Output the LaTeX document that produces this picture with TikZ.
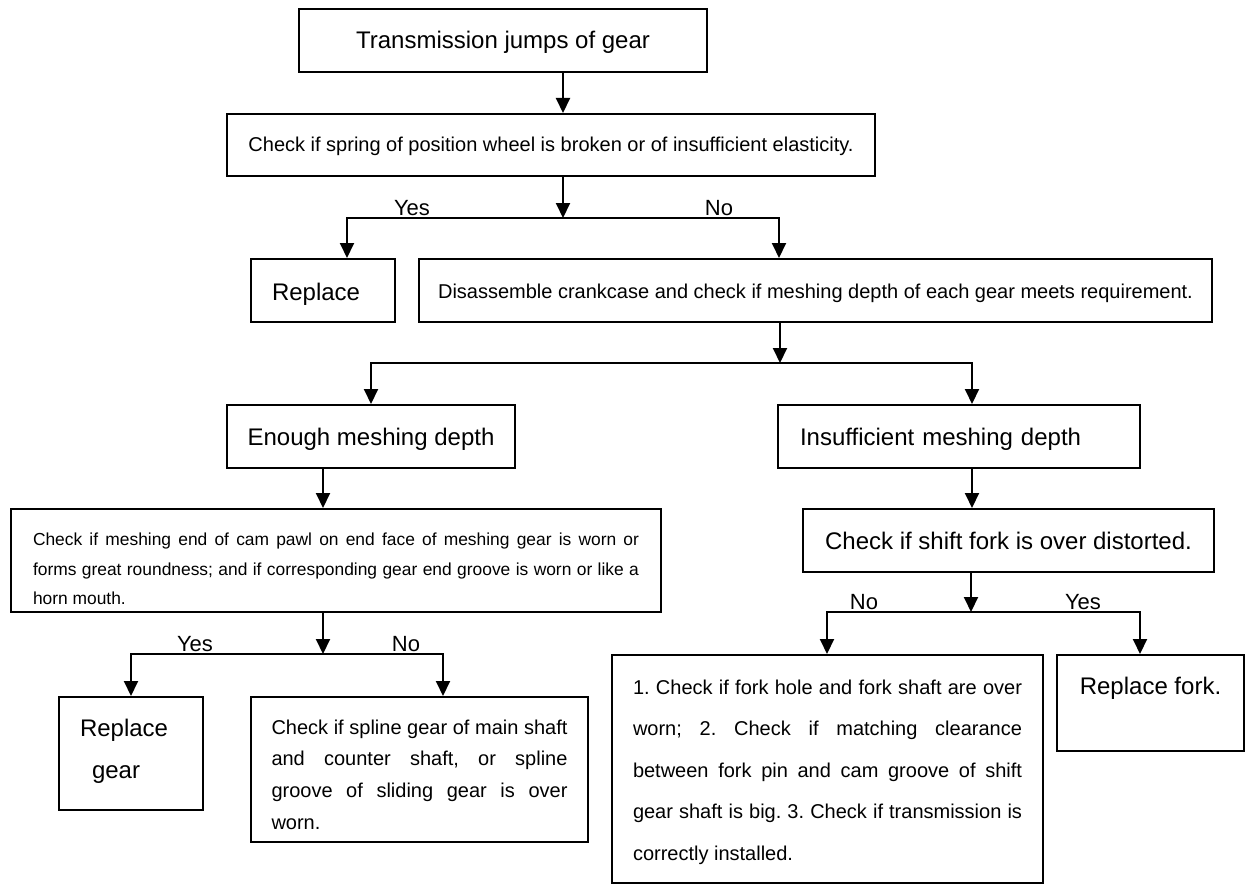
\documentclass[tikz,border=0pt]{standalone}
\usepackage{fontspec}
\setmainfont{Liberation Sans}
\usetikzlibrary{arrows.meta}

% keep the forced line breaks in the long boxes
\tolerance=10000
\hbadness=10000
\hyphenpenalty=10000
\exhyphenpenalty=10000
\frenchspacing

\tikzset{
  box/.style={draw, line width=1pt, inner sep=0pt},
  arrow/.style={line width=1pt, -{Triangle[length=7.5pt,width=7pt]}},
  answer/.style={above, inner sep=1pt, font=\fontsize{11}{13}\selectfont},
  bigtext/.style={font=\fontsize{12}{14.4}\selectfont},
  midtext/.style={font=\fontsize{10}{12}\selectfont},
}

\begin{document}
\begin{tikzpicture}[x=0.5pt,y=-0.5pt]
  \useasboundingbox (0,0) rectangle (1248,888);

  % Boxes
  \node[box,bigtext,minimum width=204pt,text height=20pt,text depth=11.5pt] (start) at (503,40.5) {Transmission jumps of gear};
  \node[box,midtext,minimum width=324pt,text height=19pt,text depth=12pt] (spring) at (551,145) {Check if spring of position wheel is broken or of insufficient elasticity.};

  \node[box,bigtext,minimum width=72pt,text width=51pt,align=left,text height=20.8pt,text depth=10.7pt] (replace) at (323,290.5) {Replace};
  \node[box,midtext,minimum width=396.5pt,text height=19.9pt,text depth=11.6pt] (crank) at (815.5,290.5) {Disassemble crankcase and check if meshing depth of each gear meets requirement.};

  \node[box,bigtext,minimum width=144pt,text height=20.2pt,text depth=11.3pt] (enough) at (371,436.5) {Enough meshing depth};
  \node[box,bigtext,minimum width=181pt,text width=159pt,align=left,text height=20.2pt,text depth=11.3pt] (insuff) at (959,436.5) {Insufficient meshing depth};

  \node[box,font=\fontsize{8.7}{14.75}\selectfont,minimum width=325pt,text width=303pt,align=justify,text height=18.25pt,text depth=33.25pt] (pawl) at (336,560.5)
    {Check if meshing end of cam pawl on end face of meshing gear is worn or\linebreak
     forms great roundness; and if corresponding gear end groove is worn or like a\linebreak
     horn mouth.};
  \node[box,bigtext,minimum width=205.5pt,text height=20pt,text depth=11.5pt] (shift) at (1008.5,540.5) {Check if shift fork is over distorted.};

  \node[box,font=\fontsize{12}{21}\selectfont,minimum width=72pt,text width=51pt,align=left,text height=19.8pt,text depth=36.7pt] (replgear) at (131,753.5)
    {Replace\\\hspace*{6pt}gear};
  \node[box,font=\fontsize{10}{15.85}\selectfont,minimum width=168.5pt,text width=148pt,align=justify,text height=18.6pt,text depth=53.9pt] (spline) at (419.5,769.5)
    {Check if spline gear of main shaft\linebreak
     and counter shaft, or spline\linebreak
     groove of sliding gear is over\linebreak
     worn.};
  \node[box,font=\fontsize{10}{20.75}\selectfont,minimum width=215.5pt,text width=194.5pt,align=justify,text height=19.6pt,text depth=94.4pt] (forkcheck) at (827.5,769)
    {1. Check if fork hole and fork shaft are over\linebreak
     worn; 2. Check if matching clearance\linebreak
     between fork pin and cam groove of shift\linebreak
     gear shaft is big. 3. Check if transmission is\linebreak
     correctly installed.};
  \node[box,bigtext,minimum width=93.5pt,text height=19.8pt,text depth=28.2pt] (replfork) at (1150.5,703) {Replace fork.};

  % Split points
  \coordinate (s1) at (563,218);
  \coordinate (s1yes) at (347,218);
  \coordinate (s1no) at (779,218);
  \coordinate (s2) at (780,363);
  \coordinate (s2l) at (371,363);
  \coordinate (s2r) at (972,363);
  \coordinate (s3) at (323,654);
  \coordinate (s3yes) at (131,654);
  \coordinate (s3no) at (443,654);
  \coordinate (s4) at (971,612);
  \coordinate (s4no) at (827,612);
  \coordinate (s4yes) at (1140,612);

  % Connectors
  \draw[arrow] (start.south -| s1) -- (spring.north -| s1);
  \draw[arrow] (spring.south -| s1) -- (s1);
  \draw[arrow] (s1) -| (s1yes |- replace.north);
  \draw[arrow] (s1) -| (s1no |- crank.north);
  \node[answer] (yes1) at (412,218) {Yes};
  \node[answer] (no1) at (719,218) {No};

  \draw[arrow] (crank.south -| s2) -- (s2);
  \draw[arrow] (s2) -| (s2l |- enough.north);
  \draw[arrow] (s2) -| (s2r |- insuff.north);

  \draw[arrow] (enough.south -| s3) -- (pawl.north -| s3);
  \draw[arrow] (pawl.south -| s3) -- (s3);
  \draw[arrow] (s3) -| (s3yes |- replgear.north);
  \draw[arrow] (s3) -| (s3no |- spline.north);
  \node[answer] (yes2) at (195,654) {Yes};
  \node[answer] (no2) at (406,654) {No};

  \draw[arrow] (insuff.south -| s2r) -- (shift.north -| s2r);
  \draw[arrow] (shift.south -| s4) -- (s4);
  \draw[arrow] (s4) -| (s4no |- forkcheck.north);
  \draw[arrow] (s4) -| (s4yes |- replfork.north);
  \node[answer] (no3) at (864,612) {No};
  \node[answer] (yes3) at (1083,612) {Yes};
\end{tikzpicture}
\end{document}
